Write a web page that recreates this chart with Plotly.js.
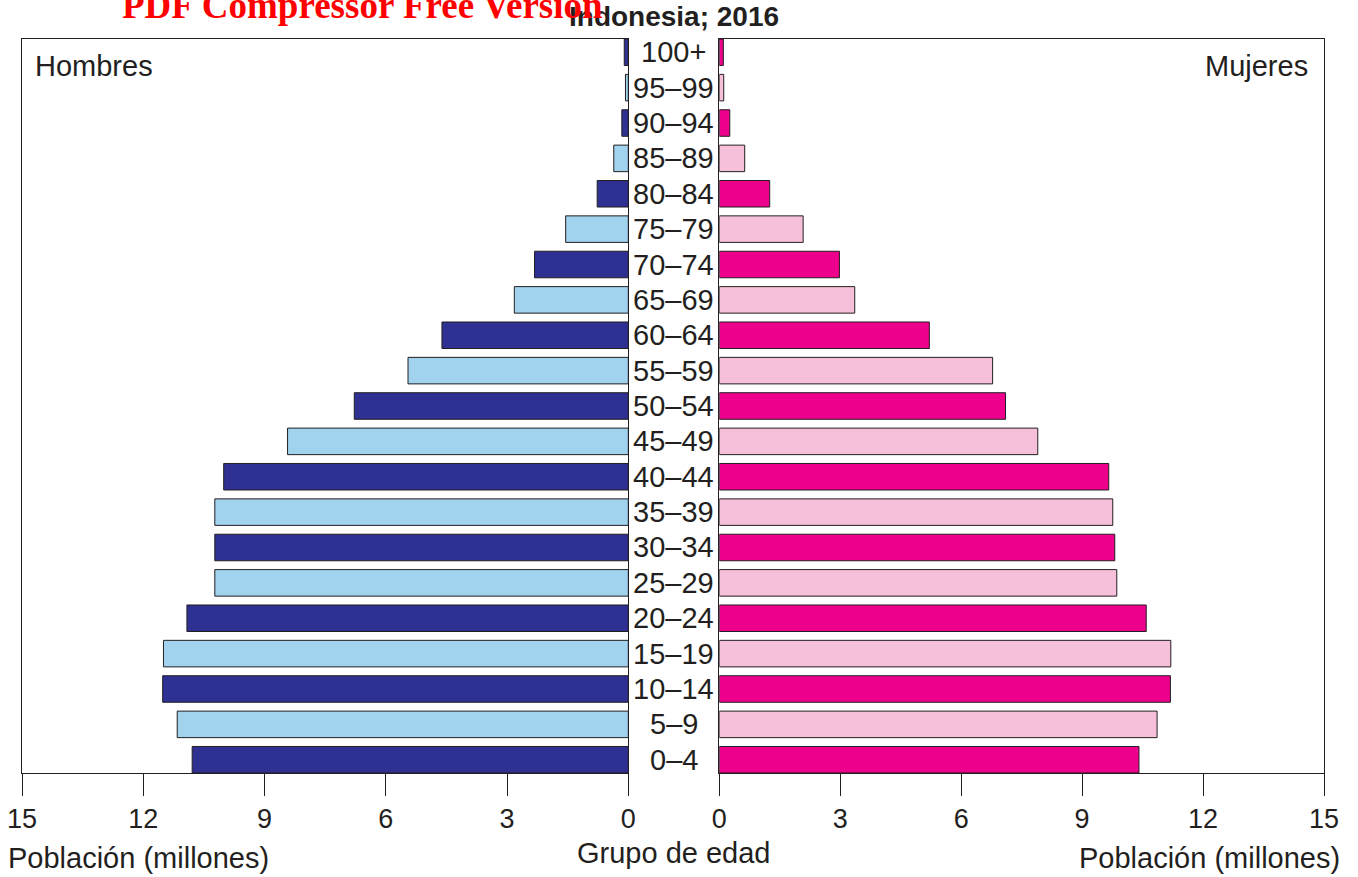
<!DOCTYPE html>
<html>
<head>
<meta charset="utf-8">
<script src="https://cdn.plot.ly/plotly-3.0.1.min.js"></script>
<style>
  html, body { margin: 0; padding: 0; background: #ffffff; }
  #chart { width: 1358px; height: 877px; }
</style>
</head>
<body>
<div id="chart"></div>
<script>
// ---- Data (millions) ----
var ageGroups = ['0–4','5–9','10–14','15–19','20–24','25–29','30–34','35–39','40–44','45–49',
                 '50–54','55–59','60–64','65–69','70–74','75–79','80–84','85–89','90–94','95–99','100+'];
var maleValues   = [10.79, 11.16, 11.52, 11.50, 10.92, 10.23, 10.23, 10.23, 10.01, 8.43,
                    6.78, 5.45, 4.61, 2.82, 2.32, 1.55, 0.77, 0.36, 0.16, 0.07, 0.10];
var femaleValues = [10.41, 10.86, 11.19, 11.20, 10.59, 9.86, 9.81, 9.76, 9.66, 7.90,
                    7.10, 6.78, 5.21, 3.36, 2.98, 2.08, 1.25, 0.63, 0.26, 0.11, 0.10];
var xTicks = [0, 3, 6, 9, 12, 15];

var titleText = 'Indonesia; 2016';
var maleLabel = 'Hombres';
var femaleLabel = 'Mujeres';
var xTitle = 'Población (millones)';
var ageTitle = 'Grupo de edad';
var watermark = 'PDF Compressor Free Version';

// ---- Styling ----
var W = 1358, H = 877;
var FONT = 'Liberation Sans, Arial, Helvetica, sans-serif';
var INK = '#231f20';
var maleDark = '#2e3192', maleLight = '#a1d2ee';
var femaleDark = '#ec008c', femaleLight = '#f7c0da';

var maleColors = ageGroups.map(function (_, i) { return i % 2 === 0 ? maleDark : maleLight; });
var femaleColors = ageGroups.map(function (_, i) { return i % 2 === 0 ? femaleDark : femaleLight; });

var mT = 39, mB = 104;
function px2x(p) { return p / W; }
function px2y(p) { return (H - mB - p) / (H - mT - mB); }

var traces = [
  {
    type: 'bar', orientation: 'h', x: maleValues, y: ageGroups,
    xaxis: 'x', yaxis: 'y', width: 0.75,
    marker: { color: maleColors, line: { color: INK, width: 1 } },
    hoverinfo: 'x+y', showlegend: false
  },
  {
    type: 'bar', orientation: 'h', x: femaleValues, y: ageGroups,
    xaxis: 'x2', yaxis: 'y2', width: 0.75,
    marker: { color: femaleColors, line: { color: INK, width: 1 } },
    hoverinfo: 'x+y', showlegend: false
  }
];

var baseX = {
  tickvals: xTicks, ticktext: xTicks.map(String),
  ticks: 'outside', ticklen: 22, tickwidth: 1, tickcolor: INK,
  showline: true, linecolor: INK, linewidth: 1, mirror: true,
  showgrid: false, zeroline: false,
  tickfont: { family: FONT, size: 27, color: INK },
  fixedrange: true
};
var baseY = {
  type: 'category', categoryorder: 'array', categoryarray: ageGroups,
  range: [-0.375, ageGroups.length - 1 + 0.375],
  showticklabels: false, ticks: '',
  showline: true, linecolor: INK, linewidth: 1, mirror: true,
  showgrid: false, zeroline: false, fixedrange: true
};

var annotations = [];
ageGroups.forEach(function (g) {
  annotations.push({
    xref: 'paper', yref: 'y', x: px2x(673.5), y: g,
    text: g, showarrow: false, xanchor: 'center', yanchor: 'middle',
    font: { family: FONT, size: 29, color: INK }
  });
});
annotations.push(
  { xref: 'paper', yref: 'paper', x: px2x(674), y: px2y(17), text: '<b>' + titleText + '</b>',
    showarrow: false, xanchor: 'center', yanchor: 'middle', font: { family: FONT, size: 28, color: INK } },
  { xref: 'paper', yref: 'paper', x: px2x(33), y: px2y(66), text: maleLabel,
    showarrow: false, xanchor: 'left', yanchor: 'middle', font: { family: FONT, size: 29, color: INK } },
  { xref: 'paper', yref: 'paper', x: px2x(1310), y: px2y(66), text: femaleLabel,
    showarrow: false, xanchor: 'right', yanchor: 'middle', font: { family: FONT, size: 29, color: INK } },
  { xref: 'paper', yref: 'paper', x: px2x(6), y: px2y(858), text: xTitle,
    showarrow: false, xanchor: 'left', yanchor: 'middle', font: { family: FONT, size: 29, color: INK } },
  { xref: 'paper', yref: 'paper', x: px2x(1342), y: px2y(858), text: xTitle,
    showarrow: false, xanchor: 'right', yanchor: 'middle', font: { family: FONT, size: 29, color: INK } },
  { xref: 'paper', yref: 'paper', x: px2x(673.5), y: px2y(853), text: ageTitle,
    showarrow: false, xanchor: 'center', yanchor: 'middle', font: { family: FONT, size: 29, color: INK } },
  { xref: 'paper', yref: 'paper', x: px2x(120), y: px2y(6), text: '<b>' + watermark + '</b>',
    showarrow: false, xanchor: 'left', yanchor: 'middle',
    font: { family: 'Liberation Serif, Times New Roman, serif', size: 37, color: '#ff0000' } }
);

var layout = {
  width: W, height: H,
  margin: { l: 0, r: 0, t: mT, b: mB, pad: 0 },
  paper_bgcolor: '#ffffff', plot_bgcolor: '#ffffff',
  showlegend: false,
  xaxis: Object.assign({}, baseX, { domain: [px2x(22), px2x(628.3)], range: [15, 0], anchor: 'y' }),
  xaxis2: Object.assign({}, baseX, { domain: [px2x(719.3), px2x(1324)], range: [0, 15], anchor: 'y2' }),
  yaxis: Object.assign({}, baseY, { anchor: 'x', domain: [0, 1] }),
  yaxis2: Object.assign({}, baseY, { anchor: 'x2', domain: [0, 1], matches: 'y' }),
  annotations: annotations
};

Plotly.newPlot('chart', traces, layout, { displayModeBar: false, staticPlot: true });
</script>
</body>
</html>
